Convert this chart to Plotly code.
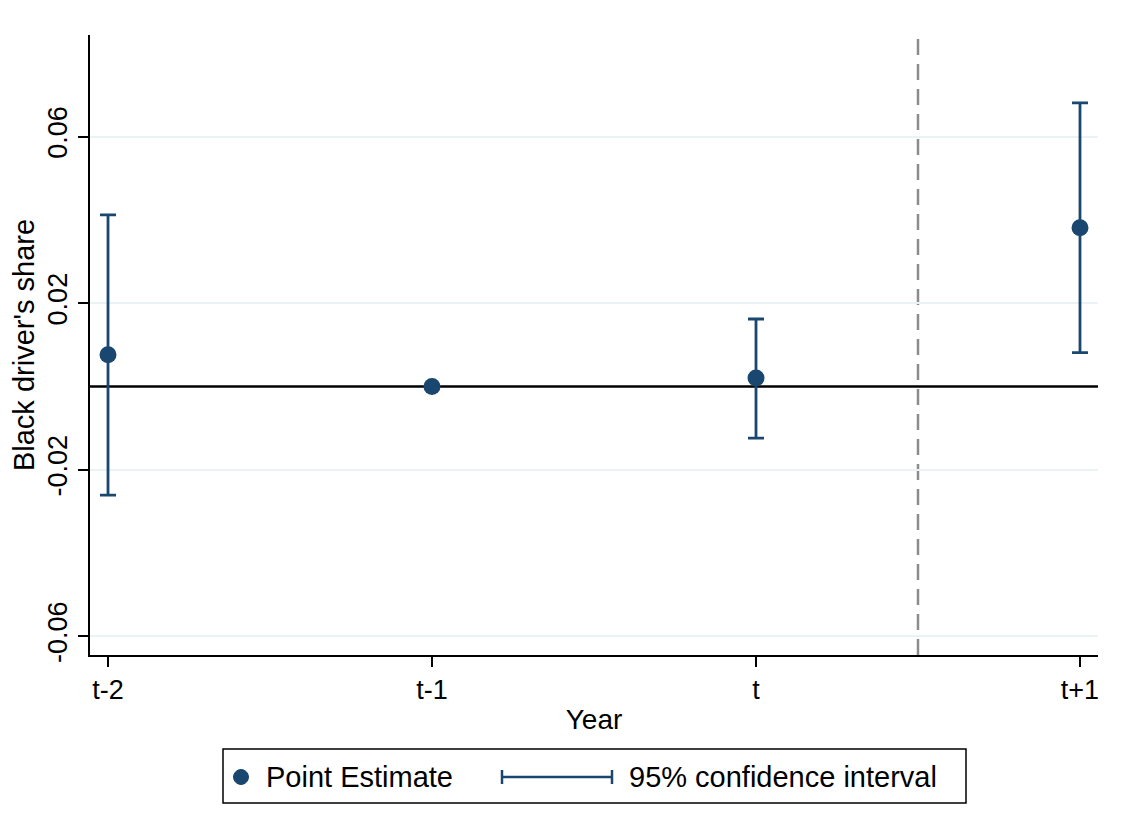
import plotly.graph_objects as go

categories = ["t-2", "t-1", "t", "t+1"]
estimates = [0.0076, 0.0, 0.0020, 0.0381]
ci_low = [-0.0261, 0.0, -0.0124, 0.0081]
ci_high = [0.0412, 0.0, 0.0162, 0.0681]
y_ticks = [-0.06, -0.02, 0.02, 0.06]
y_ticklabels = ["-0.06", "-0.02", "0.02", "0.06"]
event_line_x = 2.5

NAVY = "#1a476f"
FONT = "Liberation Sans, Arial, Helvetica, sans-serif"

# plot area in reference pixels: x 90..1098, y 35..655 (page has 8px body offset)
PL, PR, PT, PB = 90, 1098, 35, 655
PW, PH = PR - PL, PB - PT


def px(x):
    return (x - PL) / PW


def py(y):
    return (PB - y) / PH


xs = list(range(len(categories)))
err_plus = [h - e for h, e in zip(ci_high, estimates)]
err_minus = [e - l for e, l in zip(estimates, ci_low)]

fig = go.Figure()
fig.add_trace(go.Scatter(
    x=xs, y=estimates, mode="markers",
    marker=dict(color=NAVY, size=17),
    error_y=dict(type="data", symmetric=False, array=err_plus, arrayminus=err_minus,
                 color=NAVY, thickness=2.8, width=8),
    showlegend=False,
))

LY = 777
shapes = [
    dict(type="line", xref="paper", yref="y", x0=0, x1=1, y0=0, y1=0,
         line=dict(color="black", width=2.5), layer="below"),
    dict(type="line", xref="x", yref="paper", x0=event_line_x, x1=event_line_x, y0=0, y1=1,
         line=dict(color="#8c8c8c", width=2.5, dash="16px,9px"), layer="below"),
    dict(type="rect", xref="paper", yref="paper", x0=px(223), x1=px(966), y0=py(749), y1=py(803),
         line=dict(color="black", width=1.5), fillcolor="white"),
    dict(type="circle", xref="paper", yref="paper", xsizemode="pixel", ysizemode="pixel",
         xanchor=px(241), yanchor=py(LY),
         x0=-7.5, x1=7.5, y0=-7.5, y1=7.5, fillcolor=NAVY, line=dict(color=NAVY, width=1)),
    dict(type="line", xref="paper", yref="paper", x0=px(502), x1=px(612),
         y0=py(LY), y1=py(LY), line=dict(color=NAVY, width=2.5)),
    dict(type="line", xref="paper", yref="paper", x0=px(502), x1=px(502),
         y0=py(LY - 7), y1=py(LY + 7), line=dict(color=NAVY, width=2.5)),
    dict(type="line", xref="paper", yref="paper", x0=px(612), x1=px(612),
         y0=py(LY - 7), y1=py(LY + 7), line=dict(color=NAVY, width=2.5)),
]

annotations = [
    dict(text="Point Estimate", xref="paper", yref="paper", x=px(264), y=py(LY),
         xanchor="left", yanchor="middle", showarrow=False, font=dict(size=29, color="black", family=FONT)),
    dict(text="95% confidence interval", xref="paper", yref="paper", x=px(627), y=py(LY),
         xanchor="left", yanchor="middle", showarrow=False, font=dict(size=29, color="black", family=FONT)),
]

fig.update_layout(
    width=1126, height=838,
    margin=dict(l=PL - 8, r=1126 - PR + 8, t=PT - 8, b=838 - PB + 8),
    paper_bgcolor="white", plot_bgcolor="white",
    font=dict(family=FONT, size=27, color="black"),
    shapes=shapes, annotations=annotations,
    showlegend=False,
)
fig.update_xaxes(
    range=[-0.0556, 3.0556], tickmode="array", tickvals=xs, ticktext=categories,
    showgrid=False, zeroline=False, showline=True, linecolor="black", linewidth=2,
    ticks="outside", ticklen=10, tickwidth=2, tickcolor="black",
    tickfont=dict(size=27),
    title=dict(text="Year", font=dict(size=28), standoff=5),
)
fig.update_yaxes(
    range=[-0.0645, 0.0844], tickmode="array", tickvals=y_ticks, ticktext=y_ticklabels,
    tickangle=-90,
    showgrid=True, gridcolor="#eaf2f3", gridwidth=1.5, zeroline=False,
    showline=True, linecolor="black", linewidth=2,
    ticks="outside", ticklen=10, tickwidth=2, tickcolor="black",
    tickfont=dict(size=27),
    title=dict(text="Black driver's share", font=dict(size=29), standoff=4),
)

fig.write_html("out.html")
